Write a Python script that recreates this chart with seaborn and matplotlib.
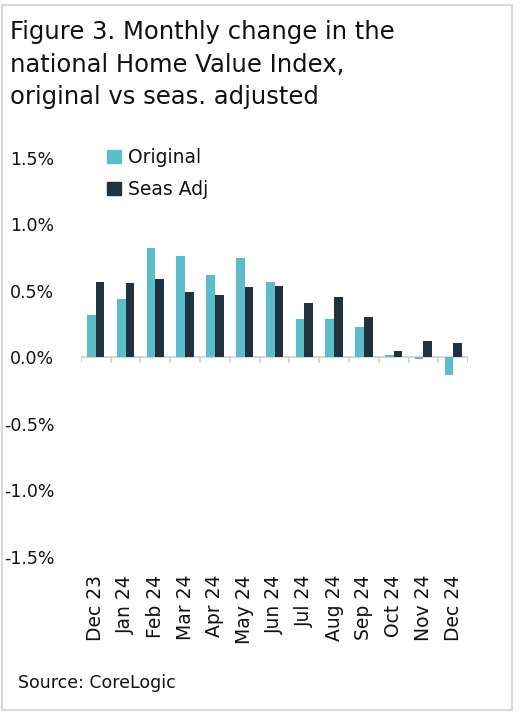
import pandas as pd
import matplotlib.pyplot as plt
import seaborn as sns
from matplotlib.patches import Rectangle

# Monthly change in national HVI (%)
months = ["Dec 23", "Jan 24", "Feb 24", "Mar 24", "Apr 24", "May 24", "Jun 24",
          "Jul 24", "Aug 24", "Sep 24", "Oct 24", "Nov 24", "Dec 24"]
original = [0.32, 0.44, 0.82, 0.76, 0.62, 0.75, 0.57, 0.29, 0.29, 0.23, 0.02, -0.01, -0.13]
seas_adj = [0.57, 0.56, 0.59, 0.49, 0.47, 0.53, 0.54, 0.41, 0.45, 0.30, 0.05, 0.12, 0.11]
ytick_vals = [-1.5, -1.0, -0.5, 0.0, 0.5, 1.0, 1.5]

series_names = ["Original", "Seas Adj"]
colors = ["#5bbdc9", "#1f323f"]
txt = "#111111"

df = pd.DataFrame({
    "Month": months * 2,
    "Series": [series_names[0]] * len(months) + [series_names[1]] * len(months),
    "Value": original + seas_adj,
})

sns.set_style("white")
plt.rcParams["font.family"] = ["DejaVu Sans"]
plt.rcParams["text.color"] = txt
plt.rcParams["xtick.color"] = txt
plt.rcParams["ytick.color"] = txt

fig = plt.figure(figsize=(5.32, 7.14), dpi=100)
ax = fig.add_axes([0.152, 0.220, 0.728, 0.559])

sns.barplot(data=df, x="Month", y="Value", hue="Series", order=months,
            hue_order=series_names, palette=colors, width=0.58, gap=0,
            saturation=1, linewidth=0, ax=ax, legend=False)

ax.set_ylim(-1.5, 1.5)
ax.set_xlim(-0.5, len(months) - 0.5)
ax.set_yticks(ytick_vals)
ax.set_yticklabels([f"{v:.1f}%" for v in ytick_vals], fontsize=12.5)
ax.tick_params(axis="y", length=0, pad=19)
ax.tick_params(axis="x", length=0, pad=13, labelrotation=90, labelsize=13.5)
ax.set_xlabel("")
ax.set_ylabel("")
for s in ax.spines.values():
    s.set_visible(False)

# zero line with category separators
ax.axhline(0, color="#d0d0d0", lw=1.2, zorder=0)
ax.vlines([i - 0.5 for i in range(len(months) + 1)], -0.045, 0,
          color="#d0d0d0", lw=1.2, zorder=0)

# legend
handles = [Rectangle((0, 0), 1, 1, color=c) for c in colors]
fig.legend(handles, series_names, loc="upper left", bbox_to_anchor=(0.187, 0.803),
           frameon=False, fontsize=13.5, handlelength=0.75, handleheight=0.75,
           handletextpad=0.35, labelspacing=0.68, borderaxespad=0)

fig.text(0.019, 0.972, "Figure 3. Monthly change in the\nnational Home Value Index,\noriginal vs seas. adjusted",
         fontsize=17.5, va="top", ha="left", linespacing=1.45)
fig.text(0.034, 0.043, "Source: CoreLogic", fontsize=12.5, va="center", ha="left")

# light grey frame
fig.patches.append(Rectangle((0.004, 0.006), 0.958, 0.987, transform=fig.transFigure,
                             fill=False, edgecolor="#d9d9d9", lw=1.5))

fig.savefig("out.png", dpi=100)
